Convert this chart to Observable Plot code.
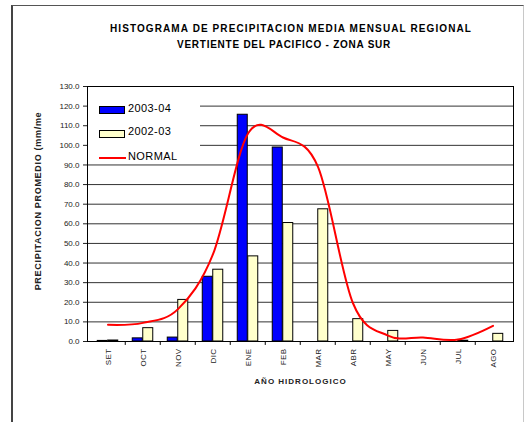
<!DOCTYPE html>
<html>
<head>
<meta charset="utf-8">
<script src="https://cdn.jsdelivr.net/npm/d3@7"></script>
<script src="https://cdn.jsdelivr.net/npm/@observablehq/plot@0.6"></script>
<style>
  body { margin: 0; background: #fff; }
  #wrap { position: relative; width: 530px; height: 422px; overflow: hidden; font-family: "Liberation Sans", Arial, sans-serif; background:#fff; }
  #border { position: absolute; left: 11px; top: 5px; width: 513px; height: 440px; border-left: 2px solid #444; border-top: 1px solid #555; border-right: 1px solid #c8c8c8; box-sizing: border-box; }
  .title { position: absolute; left: 0; text-align: center; font-weight: bold; font-size: 10px; color: #000; white-space: nowrap; line-height: 12px; }
  #chart { position: absolute; left: 0; top: 0; }
  #legend { position: absolute; left: 88px; top: 87px; width: 112px; height: 76px; background: #fff; font-size: 11px; color: #000; }
  #legend .sw { position: absolute; left: 11px; width: 26px; height: 8px; box-sizing: border-box; border: 1px solid #000; }
  #legend .lab { position: absolute; left: 40px; line-height: 11px; letter-spacing: 0.4px; white-space: nowrap; }
  #legend .ln { position: absolute; left: 11px; width: 27px; height: 2px; background: #ff0000; }
  g[aria-label="y-axis label"] text, g[aria-label="x-axis label"] text { font-weight: bold; }
  g[aria-label="x-axis tick label"] text { letter-spacing: 0.4px; }
</style>
</head>
<body>
<div id="wrap">
  <div id="border"></div>
  <div id="chart"></div>
  <div class="title" style="top:23px;width:582px;letter-spacing:1.1px">HISTOGRAMA DE PRECIPITACION MEDIA MENSUAL REGIONAL</div>
  <div class="title" style="top:39px;width:568px;letter-spacing:0.75px">VERTIENTE DEL PACIFICO - ZONA SUR</div>
  <div id="legend"></div>
</div>
<script>
// ---- data ----
const months = ["SET","OCT","NOV","DIC","ENE","FEB","MAR","ABR","MAY","JUN","JUL","AGO"];
const serie2003_04 = [0.3, 1.6, 2.0, 33.0, 115.6, 98.9, 0, 0, 0, 0, 0, 0];
const serie2002_03 = [0.5, 6.8, 21.2, 36.6, 43.4, 60.4, 67.4, 11.4, 5.4, 0, 0.4, 3.9];
const normal = [8.5, 9.5, 16.5, 44.5, 106.0, 104.0, 89.0, 19.5, 3.0, 2.0, 1.0, 8.0];
const yTicks = [0, 10, 20, 30, 40, 50, 60, 70, 80, 90, 100, 110, 120, 130];
const seriesNames = ["2003-04", "2002-03", "NORMAL"];
const seriesColors = ["#0000ff", "#ffffcc", "#ff0000"];

const rows = months.map((m, i) => ({month: m, a: serie2003_04[i], b: serie2002_03[i], n: normal[i]}));

const W = 530, H = 422;
const mL = 87, mR = 17, mT = 86, mB = 81;
const bw = (W - mL - mR) / months.length;  // band width in px
const barW = 10.5;

const chart = Plot.plot({
  width: W,
  height: H,
  marginLeft: mL,
  marginRight: mR,
  marginTop: mT,
  marginBottom: mB,
  style: {fontFamily: "'Liberation Sans', Arial, sans-serif", fontSize: "8px", color: "#222", background: "transparent", overflow: "visible"},
  x: {domain: months, padding: 0, tickSize: 0, tickRotate: -90, tickPadding: 7, label: "AÑO HIDROLOGICO", labelAnchor: "center", labelOffset: 42},
  y: {domain: [0, 130], ticks: yTicks, tickFormat: d => d.toFixed(1), tickSize: 4, tickPadding: 4,
      label: "PRECIPITACION PROMEDIO (mm/me", labelAnchor: "center", labelOffset: 53, labelArrow: "none"},
  marks: [
    Plot.ruleY(yTicks, {stroke: "#333", strokeWidth: 1}),
    Plot.barY(rows, {x: "month", y: "a", fill: seriesColors[0], stroke: "#000", strokeWidth: 1,
      insetLeft: bw / 2 - barW, insetRight: bw / 2}),
    Plot.barY(rows, {x: "month", y: "b", fill: seriesColors[1], stroke: "#000", strokeWidth: 1,
      insetLeft: bw / 2, insetRight: bw / 2 - barW}),
    Plot.ruleX(months.slice(1), {x: d => d, dx: -bw / 2, y1: 0, y2: -2, stroke: "#000"}),
    Plot.line(rows, {x: "month", y: "n", curve: "cardinal", stroke: seriesColors[2], strokeWidth: 2}),
    Plot.frame({stroke: "#000", strokeWidth: 1})
  ]
});
document.getElementById("chart").appendChild(chart);

// nudge the truncated y label upward as in the reference
d3.select(chart).selectAll('g[aria-label="y-axis label"] text').attr("dx", "13").style("letter-spacing", "0.7px").style("font-size", "9px");
d3.select(chart).selectAll('g[aria-label="x-axis label"] text').style("letter-spacing", "1px");

// legend
const lg = document.getElementById("legend");
const legendTops = [{sw: 19, lab: 16}, {sw: 43, lab: 39}, {sw: 70, lab: 64}];
seriesNames.forEach((name, i) => {
  const el = document.createElement("div");
  if (i < 2) { el.className = "sw"; el.style.background = seriesColors[i]; }
  else { el.className = "ln"; }
  el.style.top = legendTops[i].sw + "px";
  lg.appendChild(el);
  const t = document.createElement("div");
  t.className = "lab";
  t.style.top = legendTops[i].lab + "px";
  t.textContent = name;
  lg.appendChild(t);
});
</script>
</body>
</html>
